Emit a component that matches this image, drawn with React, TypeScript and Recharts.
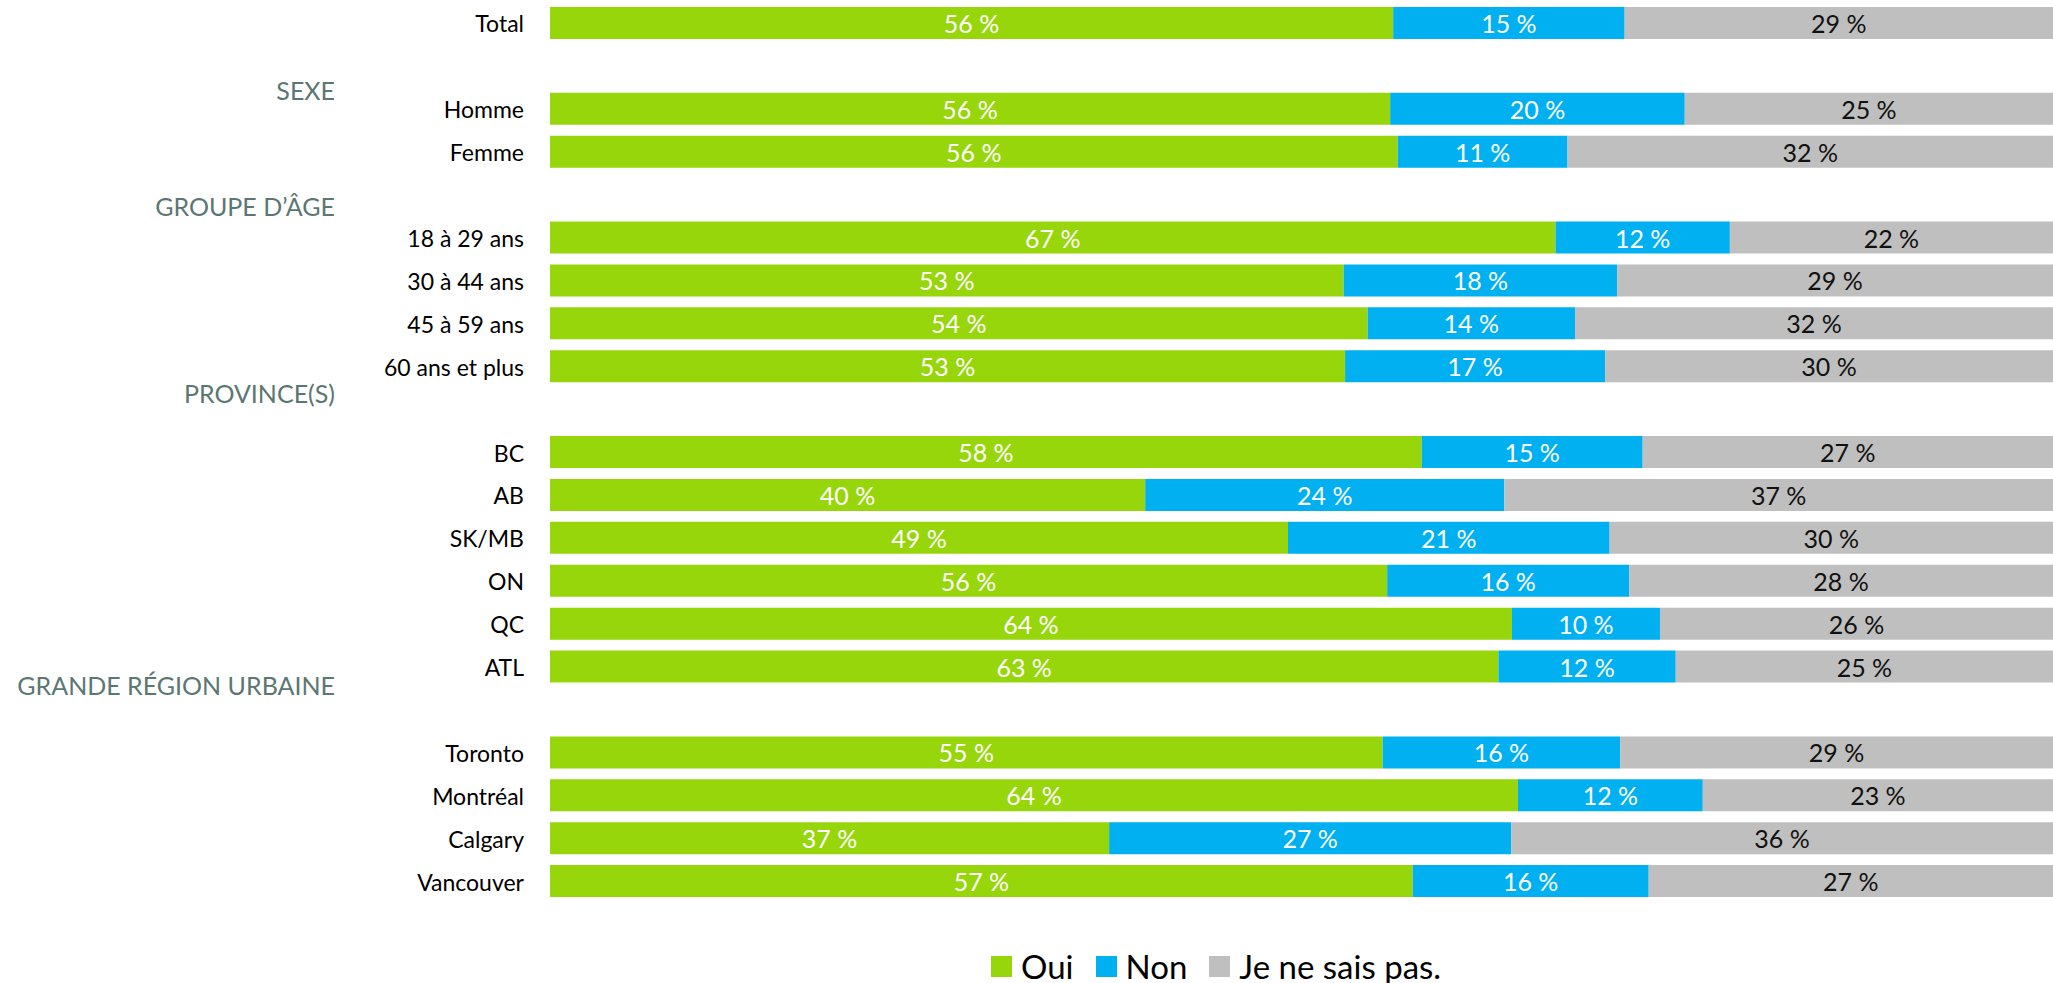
import React from 'react';
import { BarChart, Bar, XAxis, YAxis, LabelList, Legend } from 'recharts';

const categories = [
  'Total', 'SEXE', 'Homme', 'Femme', 'GROUPE D’ÂGE', '18 à 29 ans', '30 à 44 ans', '45 à 59 ans',
  '60 ans et plus', 'PROVINCE(S)', 'BC', 'AB', 'SK/MB', 'ON', 'QC', 'ATL', 'GRANDE RÉGION URBAINE',
  'Toronto', 'Montréal', 'Calgary', 'Vancouver',
];
const oui = [56.1, null, 55.9, 56.4, null, 66.9, 52.8, 54.4, 52.9, null, 58.0, 39.6, 49.1, 55.7, 64.0, 63.1, null, 55.4, 64.4, 37.2, 57.4];
const non = [15.4, null, 19.6, 11.3, null, 11.6, 18.2, 13.8, 17.3, null, 14.7, 23.9, 21.4, 16.1, 9.85, 11.8, null, 15.8, 12.3, 26.75, 15.7];
const nsp = [28.5, null, 24.5, 32.3, null, 21.5, 29.0, 31.8, 29.8, null, 27.3, 36.5, 29.5, 28.2, 26.15, 25.1, null, 28.8, 23.3, 36.05, 26.9];

const seriesNames = ['Oui', 'Non', 'Je ne sais pas.'];
const seriesKeys = ['oui', 'non', 'nsp'];
const seriesColors = ['#96D60A', '#00B0F0', '#BFBFBF'];
const labelColors = ['#FFFFFF', '#FFFFFF', '#111111'];

// vertical nudges for section header labels (style only)
const sectionOffsets: Record<string, number> = {
  'SEXE': 23.6,
  'GROUPE D’ÂGE': 11,
  'PROVINCE(S)': -17,
  'GRANDE RÉGION URBAINE': -25,
};

const data = categories.map((name, i) => ({ name, oui: oui[i], non: non[i], nsp: nsp[i] }));

const CategoryTick = (props: any) => {
  const { x, y, payload } = props;
  const name = payload.value as string;
  if (sectionOffsets[name] !== undefined) {
    return (
      <text x={x - 189} y={y + sectionOffsets[name]} textAnchor="end" dominantBaseline="central"
        fontFamily="Lato" fontWeight={400} fontSize={25} fill="#5B7773">{name}</text>
    );
  }
  return (
    <text x={x} y={y} textAnchor="end" dominantBaseline="central"
      fontFamily="Lato" fontSize={23} fill="#000000">{name}</text>
  );
};

const makeLabel = (color: string) => (props: any) => {
  const { x, y, width, height, value } = props;
  if (value === null || value === undefined) return null;
  return (
    <text x={x + width / 2} y={y + height / 2} textAnchor="middle" dominantBaseline="central"
      fontFamily="Lato" fontSize={25} fill={color}>{`${Math.round(value)} %`}</text>
  );
};

const LegendContent = () => (
  <div style={{ display: 'flex', alignItems: 'center', fontFamily: 'Lato', fontSize: 33, height: 44, lineHeight: '44px', whiteSpace: 'nowrap', color: '#000' }}>
    {seriesNames.map((n, i) => (
      <span key={n} style={{ display: 'flex', alignItems: 'center', marginRight: i < seriesNames.length - 1 ? 22 : 0 }}>
        <span style={{ display: 'inline-block', width: 21, height: 21, background: seriesColors[i], marginRight: 9 }} />
        {n}
      </span>
    ))}
  </div>
);

export default function App() {
  return (
    <div style={{ position: 'absolute', left: 0, top: 0, width: 2053, height: 983, background: '#fff' }}>
      <BarChart width={2053} height={983} data={data} layout="vertical"
        margin={{ top: 2, right: 0, bottom: 80, left: 0 }} barSize={32}>
        <XAxis type="number" domain={[0, 100]} allowDataOverflow hide />
        <YAxis type="category" dataKey="name" width={550} axisLine={false} tickLine={false}
          tickSize={0} tickMargin={26} interval={0} tick={<CategoryTick />} />
        <Legend layout="horizontal" verticalAlign="middle" align="center" content={<LegendContent />}
          wrapperStyle={{ left: 991, top: 944, width: 'auto', height: 44 }} />
        {seriesKeys.map((k, i) => (
          <Bar key={k} dataKey={k} name={seriesNames[i]} stackId="a" fill={seriesColors[i]} isAnimationActive={false}>
            <LabelList dataKey={k} content={makeLabel(labelColors[i])} />
          </Bar>
        ))}
      </BarChart>
    </div>
  );
}
